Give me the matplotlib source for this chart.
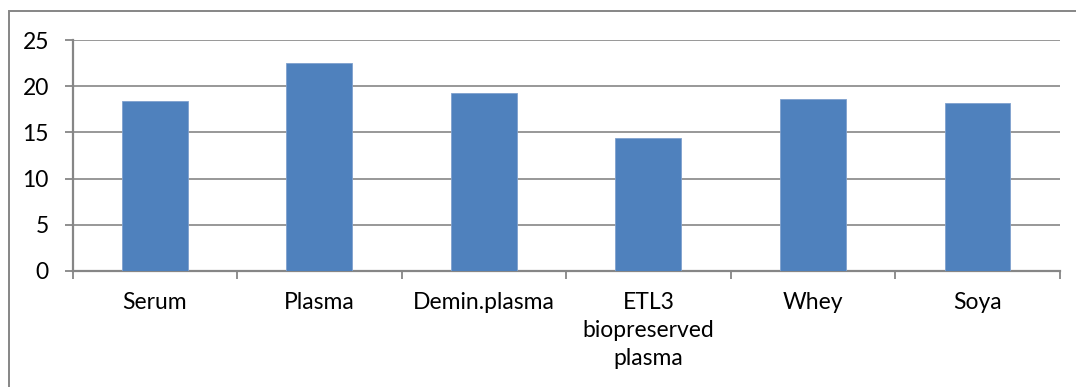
import numpy as np
import matplotlib.pyplot as plt
from matplotlib.patches import Rectangle
from matplotlib.ticker import FixedLocator, MultipleLocator

plt.rcParams['font.family'] = ['Lato', 'DejaVu Sans']

# Bar chart data
categories = ['Serum', 'Plasma', 'Demin.plasma', 'ETL3\nbiopreserved\nplasma', 'Whey', 'Soya']
values = [18.4, 22.5, 19.25, 14.45, 18.6, 18.15]

bar_color = '#4F81BD'
axis_gray = '#868686'

fig = plt.figure(figsize=(10.76, 3.87), dpi=100)
ax = fig.add_axes([0.0674, 0.3005, 0.9175, 0.5954])

x = np.arange(len(categories))
ax.bar(x, values, width=0.4, color=bar_color, edgecolor='#7FA1CE', linewidth=0.6, zorder=3)

ax.set_xlim(-0.5, len(categories) - 0.5)
ax.set_ylim(0, 25)
ax.yaxis.set_major_locator(MultipleLocator(5))
ax.grid(axis='y', color=axis_gray, linewidth=1.2, zorder=0)

# labels sit at the category centres, tick marks at the boundaries
ax.set_xticks(x)
ax.set_xticklabels(categories, fontsize=16.5, linespacing=1.43)
ax.xaxis.set_minor_locator(FixedLocator(np.arange(len(categories) + 1) - 0.5))
ax.tick_params(axis='x', which='major', length=0, pad=15)
ax.tick_params(axis='x', which='minor', length=6, width=1.3, color=axis_gray)
ax.tick_params(axis='y', length=6, width=1.3, color=axis_gray, pad=11, labelsize=16.5)

for side in ['top', 'right']:
    ax.spines[side].set_visible(False)
for side in ['left', 'bottom']:
    ax.spines[side].set_color(axis_gray)
    ax.spines[side].set_linewidth(1.6)

# chart frame
fig.patches.append(Rectangle((9 / 1076, -0.1), 1.2, 1.1 - 11 / 387, transform=fig.transFigure,
                             fill=False, edgecolor=axis_gray, linewidth=1.4))

fig.savefig('out.png', dpi=100)
